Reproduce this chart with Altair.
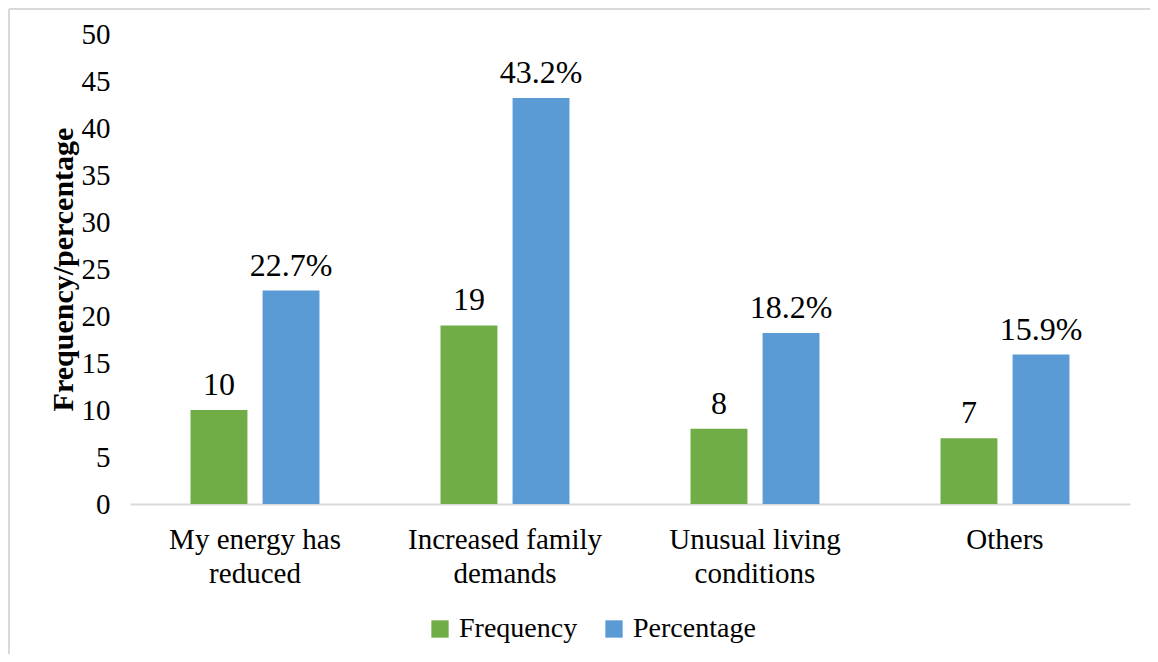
import altair as alt
import pandas as pd

categories = ["My energy has|reduced", "Increased family|demands", "Unusual living|conditions", "Others"]
frequency = [10, 19, 8, 7]
percentage = [22.7, 43.2, 18.2, 15.9]
series = ["Frequency", "Percentage"]
colors = ["#70AD47", "#5B9BD5"]

rows = []
for c, f, p in zip(categories, frequency, percentage):
    rows.append({"cat": c, "series": "Frequency", "value": f, "label": f"{f}"})
    rows.append({"cat": c, "series": "Percentage", "value": p, "label": f"{p}%"})
df = pd.DataFrame(rows)

font = "Liberation Serif"

x = alt.X("cat:N", sort=categories, title=None,
          scale=alt.Scale(paddingInner=0, paddingOuter=0),
          axis=alt.Axis(labelAngle=0, ticks=False, domainColor="#d9d9d9", domainWidth=2,
                        labelExpr="split(datum.label, '|')", labelFontSize=29,
                        labelFont=font, labelColor="black", labelPadding=21,
                        labelLineHeight=34, labelBaseline="top", labelLimit=400))
xo = alt.XOffset("series:N", sort=series,
                 scale=alt.Scale(paddingInner=0.21, paddingOuter=0.84))
y = alt.Y("value:Q", title="Frequency/percentage",
          scale=alt.Scale(domain=[0, 50], nice=False),
          axis=alt.Axis(values=list(range(0, 51, 5)), grid=False, ticks=False, domain=False,
                        labelFontSize=29, labelFont=font, labelColor="black", labelPadding=20,
                        titleFont=font, titleFontSize=30, titleFontWeight="bold",
                        titleColor="black", titlePadding=3))
color = alt.Color("series:N", sort=series, scale=alt.Scale(domain=series, range=colors),
                  legend=alt.Legend(title=None, orient="none", direction="horizontal",
                                    legendX=296, legendY=581, symbolType="square",
                                    symbolSize=300, symbolStrokeWidth=0, labelFont=font,
                                    labelFontSize=28, labelColor="black", columnPadding=22,
                                    labelOffset=5))

base = alt.Chart(df)
bars = base.mark_bar().encode(x=x, xOffset=xo, y=y, color=color)
text = base.mark_text(baseline="bottom", dy=-8, font=font, fontSize=32, color="black").encode(
    x=alt.X("cat:N", sort=categories), xOffset=xo, y="value:Q", text="label:N")

frame_top = alt.Chart(pd.DataFrame({"k": [0]})).mark_rule(color="#d9d9d9", strokeWidth=2).encode(
    x=alt.value(-121), x2=alt.value(1030), y=alt.value(-25))
frame_left = alt.Chart(pd.DataFrame({"k": [0]})).mark_rule(color="#d9d9d9", strokeWidth=2).encode(
    x=alt.value(-121), y=alt.value(-25), y2=alt.value(640))

chart = alt.layer(bars, text, frame_top, frame_left).properties(
    width=1000, height=470,
    autosize=alt.AutoSizeParams(type="none"),
    padding={"left": 122, "top": 26, "right": 20, "bottom": 150},
).configure_view(stroke=None)

chart.save("out.html", embed_options={"renderer": "svg", "actions": False})
